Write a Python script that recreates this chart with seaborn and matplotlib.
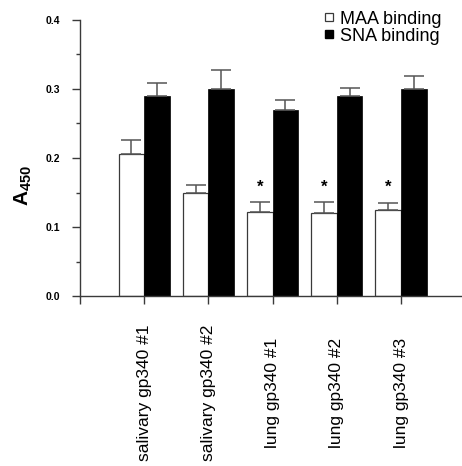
import numpy as np
import pandas as pd
import matplotlib
matplotlib.use("Agg")
import matplotlib.pyplot as plt
from matplotlib.ticker import MultipleLocator
import seaborn as sns

# ----- data -----
samples = ["salivary gp340 #1", "salivary gp340 #2", "lung gp340 #1",
           "lung gp340 #2", "lung gp340 #3"]
maa_mean = [0.206, 0.150, 0.122, 0.120, 0.125]
maa_err = [0.020, 0.011, 0.014, 0.016, 0.010]
sna_mean = [0.290, 0.300, 0.270, 0.290, 0.300]
sna_err = [0.018, 0.027, 0.014, 0.012, 0.019]
starred = [False, False, True, True, True]
series = ["MAA binding", "SNA binding"]

df = pd.DataFrame({
    "sample": samples * 2,
    "lectin": [series[0]] * len(samples) + [series[1]] * len(samples),
    "A450": maa_mean + sna_mean,
})

sns.set_style("white")
plt.rcParams["font.family"] = ["Liberation Sans", "DejaVu Sans"]
plt.rcParams["mathtext.fontset"] = "custom"
plt.rcParams["mathtext.bf"] = "Liberation Sans:bold"
plt.rcParams["mathtext.rm"] = "Liberation Sans"
plt.rcParams["text.color"] = "black"
plt.rcParams["axes.labelcolor"] = "black"
plt.rcParams["xtick.labelcolor"] = "black"
plt.rcParams["ytick.labelcolor"] = "black"

axis_col = "#3a3a3a"

fig = plt.figure(figsize=(4.62, 4.66), dpi=100)
ax = fig.add_axes([80 / 462, 1 - 296 / 466, 1 - 80 / 462, (296 - 20) / 466])

sns.barplot(data=df, x="sample", y="A450", hue="lectin", order=samples,
            hue_order=series, palette=["white", "black"], width=0.8,
            errorbar=None, ax=ax, legend=False)

# bar edges
for p in ax.containers[0]:
    p.set_edgecolor(axis_col)
    p.set_linewidth(0.9)
for p in ax.containers[1]:
    p.set_edgecolor("black")
    p.set_linewidth(0.5)

# upward-only error bars
for cont, errs in zip(ax.containers, [maa_err, sna_err]):
    xs = [p.get_x() + p.get_width() / 2 for p in cont]
    hs = [p.get_height() for p in cont]
    ax.errorbar(xs, hs, yerr=[np.zeros(len(errs)), errs], fmt="none",
                ecolor="#555555", elinewidth=1.1, capsize=7.5, capthick=1.1,
                zorder=1)

# significance stars
for p, s in zip(ax.containers[0], starred):
    if s:
        ax.text(p.get_x() + p.get_width() / 2, 0.158, "*", ha="center",
                va="center", fontsize=12, fontweight="bold", color="black")

ax.set_xlim(-1, 4.95)
ax.set_ylim(0, 0.4)
ax.yaxis.set_major_locator(MultipleLocator(0.1))
ax.yaxis.set_minor_locator(MultipleLocator(0.05))
ax.set_yticks([0.0, 0.1, 0.2, 0.3, 0.4])
ax.set_yticklabels(["0.0", "0.1", "0.2", "0.3", "0.4"], fontsize=7.5,
                   fontweight="bold")
ax.set_xticks([-1, 0, 1, 2, 3, 4])
ax.set_xticklabels([""] + samples, rotation=90, fontsize=12.5,
                   va="center", ha="center")
ax.tick_params(axis="x", direction="out", length=6, width=1,
               color=axis_col, pad=64, bottom=True)
ax.tick_params(axis="y", which="major", direction="out", length=6, width=1,
               color=axis_col, left=True, pad=8)
ax.tick_params(axis="y", which="minor", direction="out", length=3, width=1,
               color=axis_col, left=True)

sns.despine(ax=ax)
for sp in ["left", "bottom"]:
    ax.spines[sp].set_color(axis_col)
    ax.spines[sp].set_linewidth(1)

ax.set_xlabel("")
ax.set_ylabel(r"$\mathbf{A_{450}}$", fontsize=15)
ax.yaxis.set_label_coords(-0.12, 0.40)

# legend with square markers
handles = [
    plt.Line2D([], [], marker="s", linestyle="none", markersize=6,
               markerfacecolor="white", markeredgecolor=axis_col,
               markeredgewidth=0.9),
    plt.Line2D([], [], marker="s", linestyle="none", markersize=6,
               markerfacecolor="black", markeredgecolor="black"),
]
leg = ax.legend(handles, series, loc="upper right",
                bbox_to_anchor=(0.965, 1.06), frameon=False, fontsize=13,
                handlelength=0.6, handletextpad=0.3, labelspacing=0.0,
                borderaxespad=0.0)
for t in leg.get_texts():
    t.set_color("black")

fig.savefig("out.png", dpi=100)
